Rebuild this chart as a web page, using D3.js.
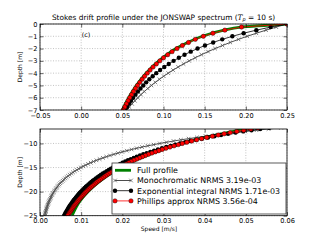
<!DOCTYPE html>
<html>
<head>
<meta charset="utf-8">
<script src="https://cdn.jsdelivr.net/npm/d3@7"></script>
<style>
  html, body { margin: 0; padding: 0; background: #fff; }
  svg { display: block; font-family: "DejaVu Sans", sans-serif; }
</style>
</head>
<body>
<div id="chart"></div>
<script>
// Depth levels (m) shared by the three approximations
const depth = [
  0, -0.25, -0.5, -0.75, -1, -1.25, -1.5, -1.75, -2, -2.25, -2.5, -2.75,
  -3, -3.25, -3.5, -3.75, -4, -4.25, -4.5, -4.75, -5, -5.25, -5.5, -5.75,
  -6, -6.25, -6.5, -6.75, -7, -7.25, -7.5, -7.75, -8, -8.25, -8.5, -8.75,
  -9, -9.25, -9.5, -9.75, -10, -10.25, -10.5, -10.75, -11, -11.25, -11.5, -11.75,
  -12, -12.25, -12.5, -12.75, -13, -13.25, -13.5, -13.75, -14, -14.25, -14.5, -14.75,
  -15, -15.25, -15.5, -15.75, -16, -16.25, -16.5, -16.75, -17, -17.25, -17.5, -17.75,
  -18, -18.25, -18.5, -18.75, -19, -19.25, -19.5, -19.75, -20, -20.25, -20.5, -20.75,
  -21, -21.25, -21.5, -21.75, -22, -22.25, -22.5, -22.75, -23, -23.25, -23.5, -23.75,
  -24, -24.25, -24.5, -24.75, -25
];

const monochromatic = [
  0.25000, 0.23692, 0.22452, 0.21277, 0.20164, 0.19109, 0.18109, 0.17161,
  0.16263, 0.15412, 0.14606, 0.13841, 0.13117, 0.12431, 0.11780, 0.11164,
  0.10579, 0.10026, 0.09501, 0.09004, 0.08533, 0.08086, 0.07663, 0.07262,
  0.06882, 0.06522, 0.06181, 0.05857, 0.05551, 0.05260, 0.04985, 0.04724,
  0.04477, 0.04243, 0.04020, 0.03810, 0.03611, 0.03422, 0.03243, 0.03073,
  0.02912, 0.02760, 0.02615, 0.02478, 0.02349, 0.02226, 0.02109, 0.01999,
  0.01894, 0.01795, 0.01701, 0.01612, 0.01528, 0.01448, 0.01372, 0.01300,
  0.01232, 0.01168, 0.01107, 0.01049, 0.00994, 0.00942, 0.00893, 0.00846,
  0.00802, 0.00760, 0.00720, 0.00682, 0.00646, 0.00612, 0.00580, 0.00550,
  0.00521, 0.00494, 0.00468, 0.00444, 0.00421, 0.00399, 0.00378, 0.00358,
  0.00339, 0.00321, 0.00304, 0.00288, 0.00274, 0.00260, 0.00246, 0.00233,
  0.00221, 0.00209, 0.00198, 0.00188, 0.00178, 0.00169, 0.00160, 0.00151,
  0.00143, 0.00136, 0.00129, 0.00122, 0.00116
];

const expIntegral = [
  0.25000, 0.23014, 0.21271, 0.19732, 0.18362, 0.17136, 0.16034, 0.15037,
  0.14133, 0.13308, 0.12554, 0.11863, 0.11226, 0.10638, 0.10095, 0.09591,
  0.09122, 0.08685, 0.08278, 0.07897, 0.07540, 0.07205, 0.06891, 0.06595,
  0.06316, 0.06053, 0.05805, 0.05570, 0.05348, 0.05138, 0.04938, 0.04749,
  0.04569, 0.04398, 0.04235, 0.04080, 0.03932, 0.03791, 0.03656, 0.03528,
  0.03405, 0.03287, 0.03175, 0.03067, 0.02964, 0.02865, 0.02771, 0.02680,
  0.02593, 0.02509, 0.02429, 0.02351, 0.02277, 0.02206, 0.02137, 0.02071,
  0.02007, 0.01946, 0.01887, 0.01830, 0.01775, 0.01722, 0.01671, 0.01621,
  0.01574, 0.01528, 0.01483, 0.01441, 0.01399, 0.01359, 0.01320, 0.01283,
  0.01247, 0.01212, 0.01178, 0.01145, 0.01114, 0.01083, 0.01053, 0.01024,
  0.00996, 0.00969, 0.00943, 0.00918, 0.00893, 0.00869, 0.00846, 0.00824,
  0.00802, 0.00781, 0.00760, 0.00740, 0.00721, 0.00702, 0.00684, 0.00667,
  0.00649, 0.00633, 0.00617, 0.00601, 0.00586
];

const phillips = [
  0.25000, 0.19481, 0.17450, 0.16001, 0.14844, 0.13864, 0.13039, 0.12296,
  0.11645, 0.11043, 0.10512, 0.10005, 0.09558, 0.09133, 0.08735, 0.08376,
  0.08027, 0.07703, 0.07405, 0.07116, 0.06841, 0.06591, 0.06348, 0.06110,
  0.05896, 0.05691, 0.05490, 0.05295, 0.05121, 0.04950, 0.04781, 0.04619,
  0.04473, 0.04330, 0.04188, 0.04049, 0.03926, 0.03806, 0.03686, 0.03569,
  0.03458, 0.03357, 0.03256, 0.03157, 0.03059, 0.02969, 0.02885, 0.02801,
  0.02718, 0.02636, 0.02560, 0.02489, 0.02419, 0.02349, 0.02281, 0.02214,
  0.02155, 0.02097, 0.02039, 0.01981, 0.01924, 0.01872, 0.01823, 0.01774,
  0.01726, 0.01678, 0.01631, 0.01588, 0.01547, 0.01506, 0.01466, 0.01426,
  0.01386, 0.01350, 0.01316, 0.01283, 0.01249, 0.01216, 0.01183, 0.01151,
  0.01123, 0.01096, 0.01068, 0.01041, 0.01013, 0.00986, 0.00961, 0.00938,
  0.00915, 0.00892, 0.00870, 0.00847, 0.00825, 0.00804, 0.00785, 0.00767,
  0.00748, 0.00729, 0.00711, 0.00692, 0.00674
];

// Full profile (no markers), sampled more coarsely
const fullDepth = [0, -0.25, -0.5, -1, -1.5, -2, -2.5, -3, -4, -5, -6, -7,
  -8, -9, -10, -12, -14, -16, -18, -20, -22, -25];
const fullProfile = [0.25, 0.1940, 0.1735, 0.1472, 0.1293, 0.1153, 0.1041, 0.0945,
  0.0790, 0.0672, 0.0578, 0.0500, 0.0440, 0.0388, 0.0344, 0.0273, 0.0218,
  0.0176, 0.0143, 0.0117, 0.0097, 0.0078];

const legendLabels = [
  "Full profile",
  "Monochromatic NRMS 3.19e-03",
  "Exponential integral NRMS 1.71e-03",
  "Phillips approx NRMS 3.56e-04"
];

const xTicksTop = [-0.05, 0, 0.05, 0.10, 0.15, 0.20, 0.25];
const yTicksTop = [0, -1, -2, -3, -4, -5, -6, -7];
const xTicksBot = [0, 0.01, 0.02, 0.03, 0.04, 0.05, 0.06];
const yTicksBot = [-10, -15, -20, -25];

const svg = d3.select("#chart").append("svg")
    .attr("width", 320)
    .attr("height", 240);

svg.append("rect").attr("width", 320).attr("height", 240).attr("fill", "#fff");

const zip = (xs, ys) => xs.map((v, i) => [v, ys[i]]);
const fullPts = zip(fullProfile, fullDepth);
const monoPts = zip(monochromatic, depth);
const expPts = zip(expIntegral, depth);
const philPts = zip(phillips, depth);

const xMark = "M-1.8,-1.8L1.8,1.8M-1.8,1.8L1.8,-1.8";

function drawPanel(id, x, y, xTicks, yTicks, xFmt) {
    const [x0, x1] = x.range();
    const [y1, y0] = y.range();
    const g = svg.append("g");

    // grid
    g.selectAll(".gx").data(xTicks).join("line")
        .attr("x1", d => x(d)).attr("x2", d => x(d))
        .attr("y1", y0).attr("y2", y1)
        .attr("stroke", "#9a9a9a").attr("stroke-width", 0.6)
        .attr("stroke-dasharray", "1,1.6");
    g.selectAll(".gy").data(yTicks).join("line")
        .attr("x1", x0).attr("x2", x1)
        .attr("y1", d => y(d)).attr("y2", d => y(d))
        .attr("stroke", "#9a9a9a").attr("stroke-width", 0.6)
        .attr("stroke-dasharray", "1,1.6");

    svg.append("clipPath").attr("id", id)
        .append("rect").attr("x", x0).attr("y", y0)
        .attr("width", x1 - x0).attr("height", y1 - y0);

    const plot = g.append("g").attr("clip-path", `url(#${id})`);
    const line = d3.line().x(d => x(d[0])).y(d => y(d[1]));

    // full profile
    plot.append("path").datum(fullPts)
        .attr("d", line.curve(d3.curveMonotoneY))
        .attr("fill", "none").attr("stroke", "#008000").attr("stroke-width", 2.8);
    line.curve(d3.curveLinear);

    // monochromatic
    plot.append("path").datum(monoPts).attr("d", line)
        .attr("fill", "none").attr("stroke", "#000").attr("stroke-width", 0.7);
    plot.selectAll(".mono").data(monoPts).join("path")
        .attr("d", xMark)
        .attr("transform", d => `translate(${x(d[0])},${y(d[1])})`)
        .attr("stroke", "#555").attr("stroke-width", 0.75).attr("fill", "none");

    // exponential integral
    plot.append("path").datum(expPts).attr("d", line)
        .attr("fill", "none").attr("stroke", "#000").attr("stroke-width", 0.8);
    plot.selectAll(".expi").data(expPts).join("circle")
        .attr("cx", d => x(d[0])).attr("cy", d => y(d[1]))
        .attr("r", 2.2).attr("fill", "#000");

    // Phillips approx
    plot.append("path").datum(philPts).attr("d", line)
        .attr("fill", "none").attr("stroke", "#f00").attr("stroke-width", 0.8);
    plot.selectAll(".phil").data(philPts).join("circle")
        .attr("cx", d => x(d[0])).attr("cy", d => y(d[1]))
        .attr("r", 2.2).attr("fill", "#f00")
        .attr("stroke", "#000").attr("stroke-width", 0.4);

    // frame
    g.append("rect").attr("x", x0).attr("y", y0)
        .attr("width", x1 - x0).attr("height", y1 - y0)
        .attr("fill", "none").attr("stroke", "#000").attr("stroke-width", 0.8);

    // axes with inward ticks
    g.append("g").attr("transform", `translate(0,${y1})`)
        .call(d3.axisBottom(x).tickValues(xTicks).tickFormat(xFmt)
            .tickSizeInner(-3.5).tickSizeOuter(0).tickPadding(3));
    g.append("g").attr("transform", `translate(${x0},0)`)
        .call(d3.axisLeft(y).tickValues(yTicks).tickFormat(d3.format("d"))
            .tickSizeInner(-3.5).tickSizeOuter(0).tickPadding(2.5));
    g.append("g").attr("transform", `translate(0,${y0})`)
        .call(d3.axisTop(x).tickValues(xTicks).tickFormat("")
            .tickSizeInner(-3.5).tickSizeOuter(0));
    g.append("g").attr("transform", `translate(${x1},0)`)
        .call(d3.axisRight(y).tickValues(yTicks).tickFormat("")
            .tickSizeInner(-3.5).tickSizeOuter(0));
    g.selectAll(".domain").remove();
    g.selectAll(".tick line").attr("stroke", "#000").attr("stroke-width", 0.6);
    g.selectAll(".tick text").attr("font-size", 6.6)
        .attr("font-family", "DejaVu Sans").attr("fill", "#000");

    // y label
    g.append("text")
        .attr("transform", `translate(22,${(y0 + y1) / 2}) rotate(-90)`)
        .attr("text-anchor", "middle")
        .attr("font-size", 6)
        .text("Depth [m]");
    return g;
}

const xTop = d3.scaleLinear([-0.05, 0.25], [40, 287]);
const yTop = d3.scaleLinear([-7, 0], [110, 24]);
const xBot = d3.scaleLinear([0, 0.06], [40, 287]);
const yBot = d3.scaleLinear([-25, -7], [215.7, 129]);

drawPanel("clipTop", xTop, yTop, xTicksTop, yTicksTop, d3.format(".2f"));
drawPanel("clipBot", xBot, yBot, xTicksBot, yTicksBot, d3.format(".2f"));

// title
const title = svg.append("text")
    .attr("x", 163.5).attr("y", 19.5)
    .attr("text-anchor", "middle")
    .attr("font-size", 7.4);
title.append("tspan").text("Stokes drift profile under the JONSWAP spectrum (");
title.append("tspan").attr("font-style", "italic").attr("font-family", "DejaVu Serif").text("T");
title.append("tspan").attr("font-size", 5).attr("dy", 1.8).attr("font-style", "italic").text("p");
title.append("tspan").attr("dy", -1.8).text(" = 10 s)");

// panel tag
svg.append("text").attr("x", 86).attr("y", 37)
    .attr("text-anchor", "middle").attr("font-size", 6.4).text("(c)");

// x label
svg.append("text").attr("x", 159).attr("y", 231)
    .attr("text-anchor", "middle").attr("font-size", 6).text("Speed [m/s]");

// legend
const leg = svg.append("g");
leg.append("rect").attr("x", 112).attr("y", 163).attr("width", 174).attr("height", 51)
    .attr("fill", "#fff").attr("stroke", "#333").attr("stroke-width", 0.8);
const ly = i => 170.3 + i * 10.2;
const lx0 = 115, lx1 = 131;
leg.append("line").attr("x1", lx0).attr("x2", lx1).attr("y1", ly(0)).attr("y2", ly(0))
    .attr("stroke", "#008000").attr("stroke-width", 2.8);
leg.append("line").attr("x1", lx0).attr("x2", lx1).attr("y1", ly(1)).attr("y2", ly(1))
    .attr("stroke", "#000").attr("stroke-width", 0.7);
[lx0, lx1].forEach(px => leg.append("path").attr("d", xMark)
    .attr("transform", `translate(${px},${ly(1)})`)
    .attr("stroke", "#555").attr("stroke-width", 0.75));
leg.append("line").attr("x1", lx0).attr("x2", lx1).attr("y1", ly(2)).attr("y2", ly(2))
    .attr("stroke", "#000").attr("stroke-width", 0.8);
[lx0, lx1].forEach(px => leg.append("circle").attr("cx", px).attr("cy", ly(2))
    .attr("r", 2.2).attr("fill", "#000"));
leg.append("line").attr("x1", lx0).attr("x2", lx1).attr("y1", ly(3)).attr("y2", ly(3))
    .attr("stroke", "#f00").attr("stroke-width", 0.8);
[lx0, lx1].forEach(px => leg.append("circle").attr("cx", px).attr("cy", ly(3))
    .attr("r", 2.2).attr("fill", "#f00").attr("stroke", "#000").attr("stroke-width", 0.4));
leg.selectAll(".lt").data(legendLabels).join("text")
    .attr("x", 137).attr("y", (d, i) => ly(i) + 2.8)
    .attr("font-size", 7.9)
    .text(d => d);
</script>
</body>
</html>
